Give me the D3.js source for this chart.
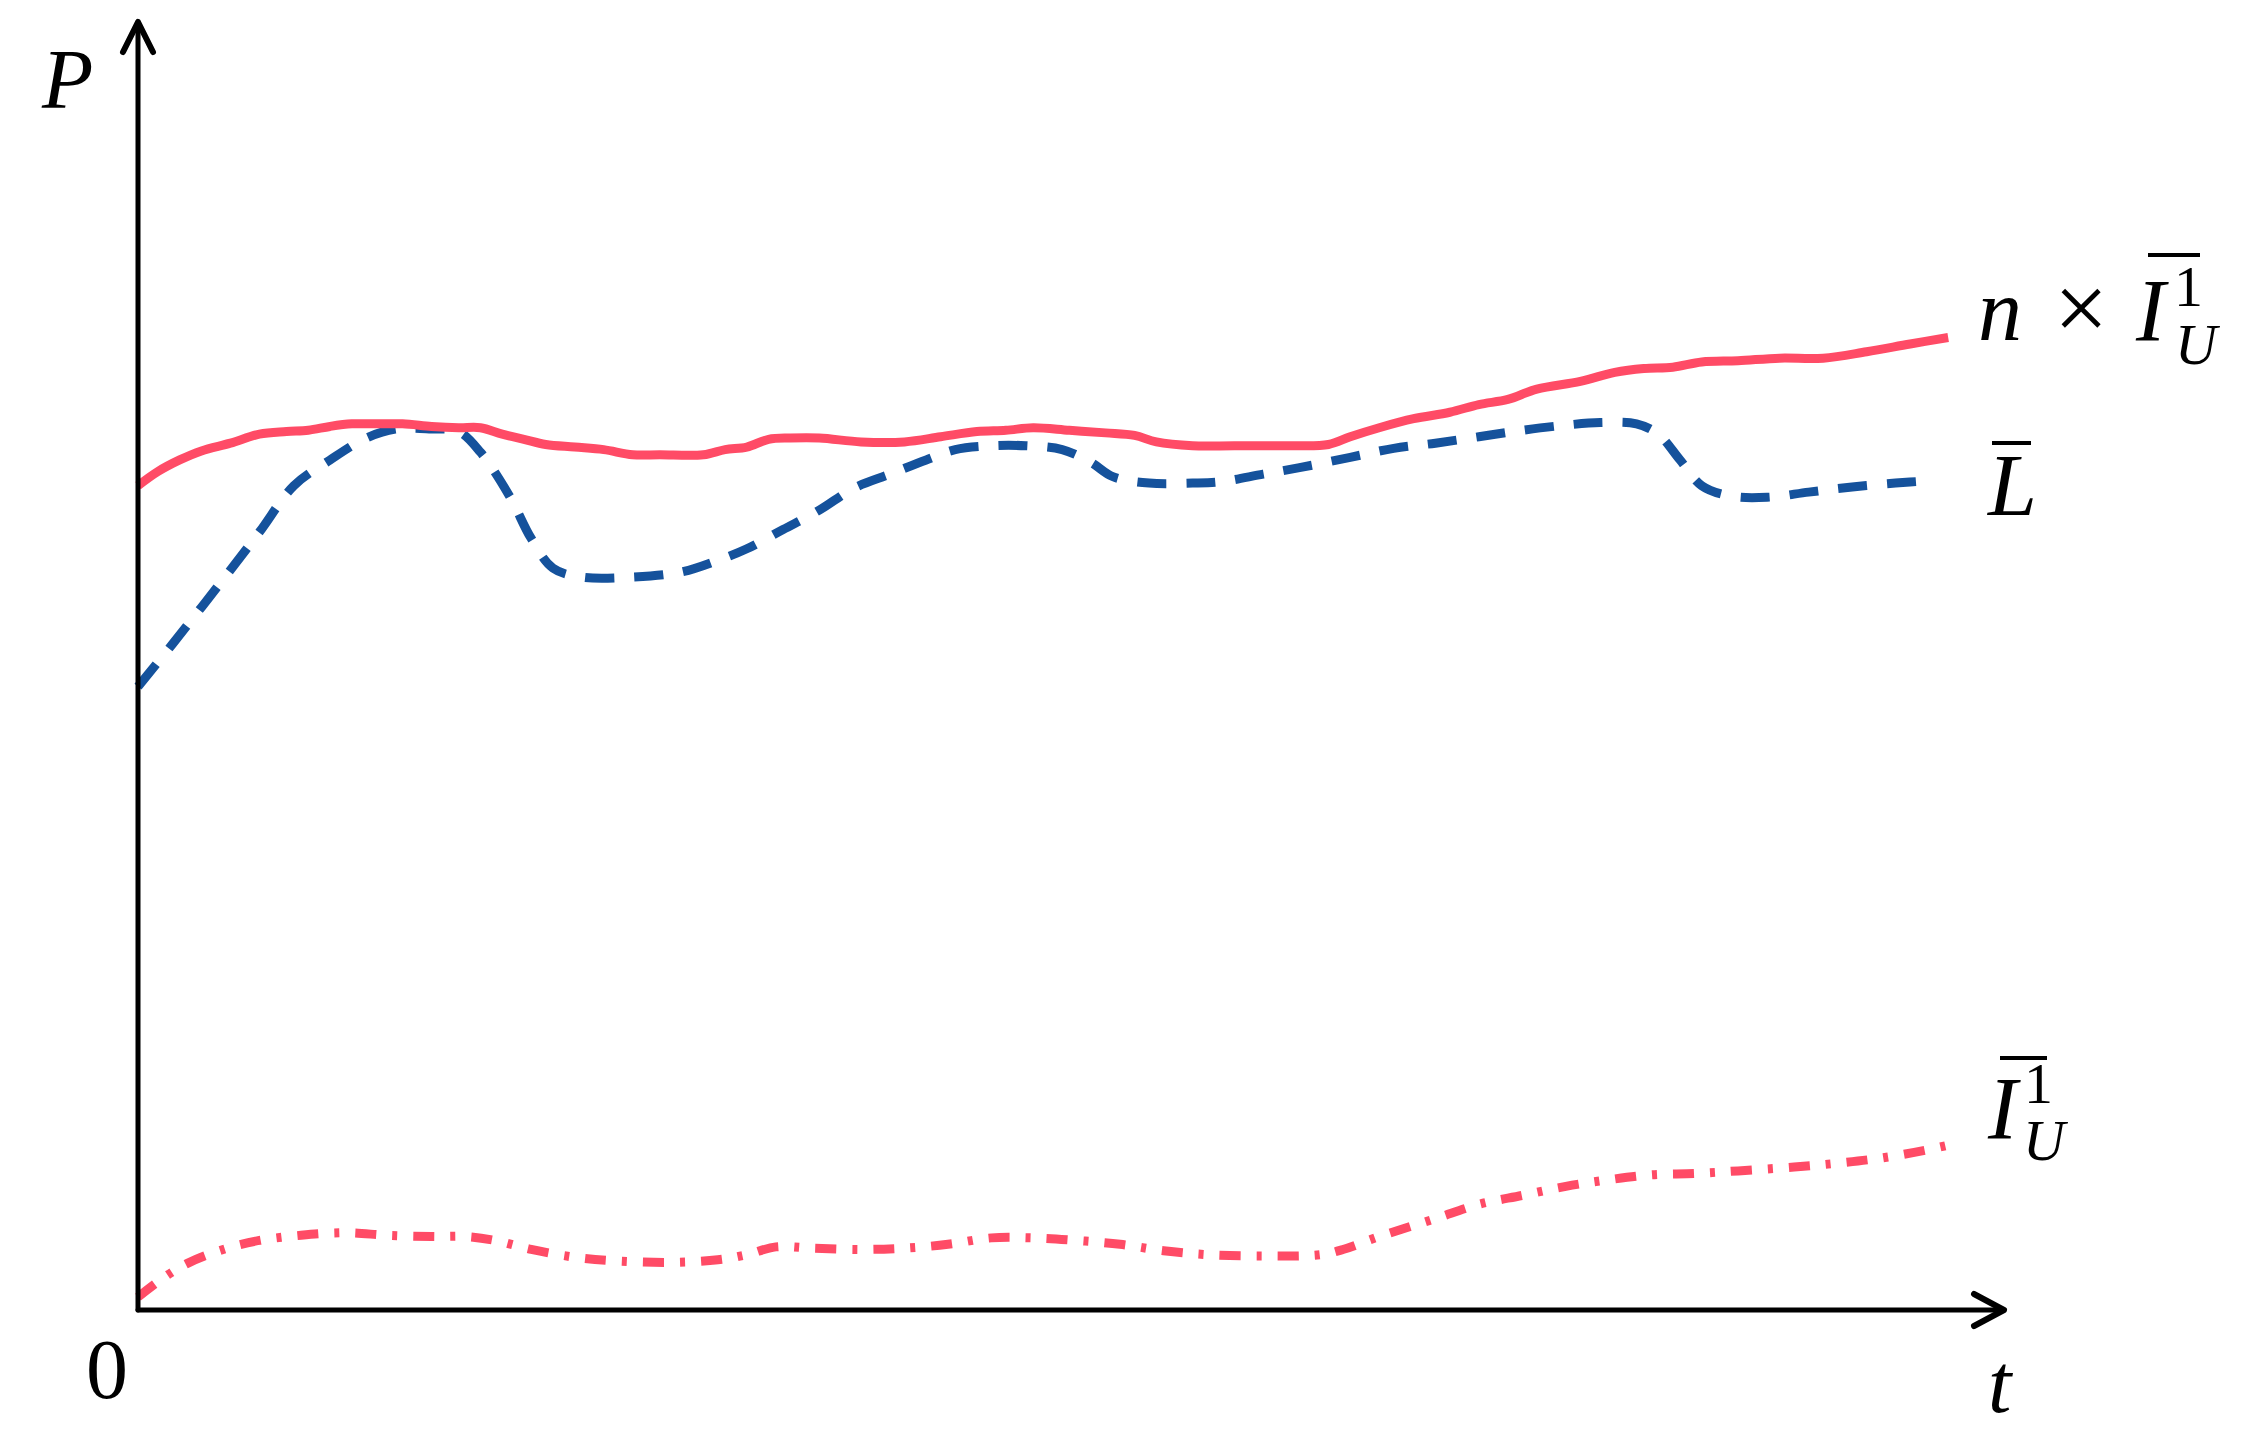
<!DOCTYPE html>
<html>
<head>
<meta charset="utf-8">
<script src="https://cdn.jsdelivr.net/npm/d3@7"></script>
<style>
  html, body { margin: 0; padding: 0; background: #fff; }
  svg { display: block; }
  .math { font-family: "Liberation Serif", "DejaVu Serif", serif; font-style: italic; fill: #000; }
  .up { font-family: "Liberation Serif", "DejaVu Serif", serif; font-style: normal; fill: #000; }
</style>
</head>
<body>
<svg id="chart" width="2252" height="1446"></svg>
<script>
// ---- Data (t in [0,100], P in [0,100]) ----
const tTotal = [0, 1.1, 2.3, 3.5, 5.1, 6.7, 8.2, 9.4, 10.6, 11.8, 13.0, 14.6, 16.2, 17.7, 18.9, 20.1, 21.3, 22.5, 24.1, 25.7, 27.3, 28.8, 31.2, 32.4, 33.6, 34.8, 36.0, 37.6, 39.9, 42.3, 44.3, 46.3, 47.9, 49.4, 51.4, 53.4, 55.0, 56.2, 58.2, 60.5, 63.7, 65.7, 66.9, 68.5, 70.4, 72.4, 74.0, 75.6, 77.2, 79.6, 81.5, 83.1, 84.7, 86.3, 88.3, 90.6, 93.0, 95.4, 97.8, 99.9];
const pTotal = [64.0, 65.1, 66.0, 66.7, 67.3, 68.0, 68.2, 68.3, 68.6, 68.8, 68.8, 68.8, 68.6, 68.5, 68.5, 68.0, 67.6, 67.2, 67.0, 66.8, 66.4, 66.4, 66.4, 66.8, 67.0, 67.6, 67.7, 67.7, 67.4, 67.4, 67.8, 68.2, 68.3, 68.5, 68.3, 68.1, 67.9, 67.4, 67.1, 67.1, 67.1, 67.2, 67.8, 68.5, 69.2, 69.7, 70.3, 70.7, 71.5, 72.1, 72.8, 73.1, 73.2, 73.6, 73.7, 73.9, 73.9, 74.4, 75.0, 75.5];

const tLoad = [0, 1.9, 4.3, 6.7, 8.6, 10.6, 12.6, 14.2, 16.2, 17.7, 18.9, 20.5, 21.7, 22.9, 24.5, 27.3, 30.0, 32.0, 33.6, 35.6, 37.6, 39.5, 41.5, 43.5, 45.1, 47.1, 49.0, 51.0, 52.6, 53.8, 55.8, 58.2, 59.7, 62.1, 64.1, 66.9, 69.3, 71.6, 74.0, 76.4, 78.8, 80.7, 82.7, 83.9, 85.1, 86.3, 87.9, 89.9, 92.2, 94.6, 97.0, 99.0];
const pLoad = [48.4, 51.7, 56.0, 60.4, 64.0, 66.0, 67.7, 68.4, 68.4, 68.2, 66.6, 63.2, 59.9, 57.6, 56.9, 56.9, 57.3, 58.2, 59.1, 60.6, 62.1, 63.8, 64.9, 66.0, 66.8, 67.1, 67.1, 66.8, 65.8, 64.7, 64.2, 64.2, 64.3, 64.9, 65.4, 66.2, 66.9, 67.3, 67.8, 68.3, 68.7, 68.9, 68.8, 68.0, 66.0, 64.0, 63.2, 63.1, 63.5, 63.9, 64.2, 64.4];

const tUnit = [0, 1.1, 2.7, 4.7, 6.7, 9.0, 11.4, 13.8, 16.2, 18.1, 19.7, 21.7, 24.1, 26.5, 29.6, 32.0, 33.6, 35.2, 37.2, 39.9, 42.3, 44.7, 47.1, 49.4, 51.8, 54.2, 56.6, 59.0, 62.1, 65.3, 66.5, 68.5, 71.6, 74.0, 76.4, 78.8, 81.1, 83.5, 85.9, 88.3, 91.4, 93.8, 96.2, 98.6, 99.9];
const pUnit = [1.0, 2.2, 3.6, 4.7, 5.4, 5.8, 6.0, 5.8, 5.7, 5.7, 5.4, 4.7, 4.1, 3.8, 3.7, 3.9, 4.3, 4.9, 4.8, 4.7, 4.8, 5.1, 5.6, 5.6, 5.4, 5.1, 4.6, 4.3, 4.2, 4.3, 4.7, 5.7, 7.1, 8.2, 8.9, 9.6, 10.1, 10.5, 10.6, 10.8, 11.1, 11.4, 11.8, 12.4, 12.8];

const axisLabels = { y: "P", x: "t", origin: "0" };

// ---- Layout ----
const svg = d3.select("#chart");
const x0 = 138, y0 = 1310;
const x = d3.scaleLinear().domain([0, 100]).range([x0, 1950]);
const y = d3.scaleLinear().domain([0, 100]).range([y0, 22]);

const red = "#FF4B66", blue = "#15529C";

const line = d3.line().x(d => x(d[0])).y(d => y(d[1])).curve(d3.curveCatmullRom.alpha(0.5));
const zip = (a, b) => a.map((v, i) => [v, b[i]]);

// Curves
svg.append("path").attr("d", line(zip(tLoad, pLoad)))
  .attr("fill", "none").attr("stroke", blue).attr("stroke-width", 9)
  .attr("stroke-dasharray", "29,20");
svg.append("path").attr("d", line(zip(tTotal, pTotal)))
  .attr("fill", "none").attr("stroke", red).attr("stroke-width", 9)
  .attr("stroke-linejoin", "round");
svg.append("path").attr("d", line(zip(tUnit, pUnit)))
  .attr("fill", "none").attr("stroke", red).attr("stroke-width", 9)
  .attr("stroke-dasharray", "21,16,5,16");

// Axes
const ax = svg.append("g").attr("stroke", "#000").attr("fill", "none")
  .attr("stroke-linecap", "round").attr("stroke-linejoin", "round");
ax.append("path").attr("d", `M${x0},${y0} L${x0},${y(100)}`).attr("stroke-width", 5);
ax.append("path").attr("d", `M${x0},${y0} L2002,${y0}`).attr("stroke-width", 5);
ax.append("path").attr("d", `M${x0-15},${y(100)+30} L${x0},${y(100)} L${x0+15},${y(100)+30}`).attr("stroke-width", 6);
ax.append("path").attr("d", `M1974,${y0-16} L2004,${y0} L1974,${y0+16}`).attr("stroke-width", 6);

// Axis labels
svg.append("text").attr("class", "math").attr("x", 42).attr("y", 108).attr("font-size", 84).text(axisLabels.y);
svg.append("text").attr("class", "up").attr("x", 107).attr("y", 1398).attr("text-anchor", "middle").attr("font-size", 84).text(axisLabels.origin);
svg.append("text").attr("class", "math").attr("x", 1988).attr("y", 1412).attr("font-size", 84).text(axisLabels.x);

// Series labels
function overbar(x1, x2, yy) {
  svg.append("line").attr("x1", x1).attr("x2", x2).attr("y1", yy).attr("y2", yy)
    .attr("stroke", "#000").attr("stroke-width", 4);
}
// n × I^1_U  (one text element, scripts as tspans)
const lab1 = svg.append("text").attr("class", "math").attr("font-size", 88);
lab1.append("tspan").attr("x", 1978).attr("y", 340).text("n");
lab1.append("tspan").attr("x", 2054).attr("y", 340).attr("font-style", "normal").attr("font-size", 96).text("×");
lab1.append("tspan").attr("x", 2136).attr("y", 340).text("I");
lab1.append("tspan").attr("x", 2174).attr("y", 306).attr("font-style", "normal").attr("font-size", 58).text("1");
lab1.append("tspan").attr("x", 2175).attr("y", 364).attr("font-size", 58).text("U");
overbar(2148, 2200, 255);

// L bar
svg.append("text").attr("class", "math").attr("x", 1988).attr("y", 515).attr("font-size", 88).text("L");
overbar(1992, 2031, 443);

// I^1_U
const lab3 = svg.append("text").attr("class", "math").attr("font-size", 88);
lab3.append("tspan").attr("x", 1988).attr("y", 1138).text("I");
lab3.append("tspan").attr("x", 2024).attr("y", 1103).attr("font-style", "normal").attr("font-size", 58).text("1");
lab3.append("tspan").attr("x", 2023).attr("y", 1160).attr("font-size", 58).text("U");
overbar(2000, 2047, 1058);
</script>
</body>
</html>
